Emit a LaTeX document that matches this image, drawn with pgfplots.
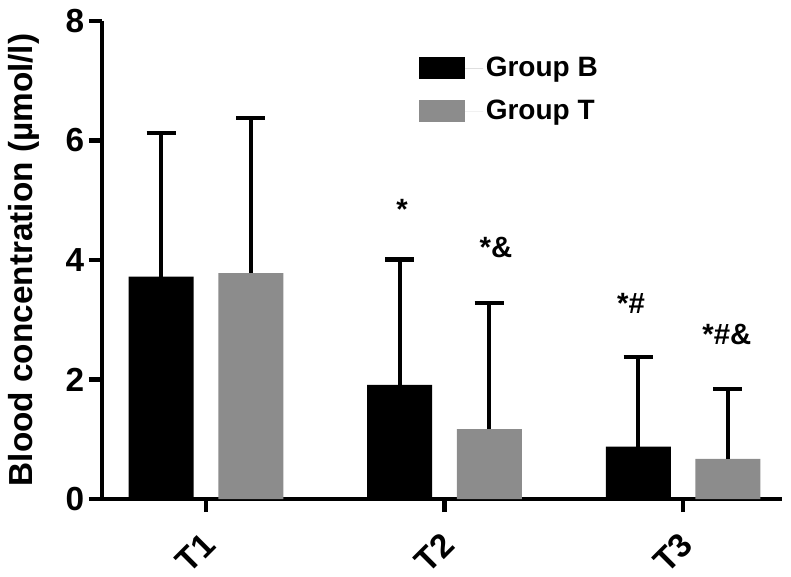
\documentclass[border=0pt]{standalone}
\usepackage{fontspec}
\setmainfont{Liberation Sans}
\usepackage{pgfplots}
\pgfplotsset{compat=1.18}
\definecolor{barB}{RGB}{0,0,0}
\definecolor{barT}{RGB}{140,140,140}
\begin{document}
\begin{tikzpicture}
\path[use as bounding box] (-76.5pt,-58.5pt) rectangle (516.75pt,374.25pt);
\begin{axis}[
  scale only axis, width=510pt, height=358.5pt,
  xmin=-0.436, xmax=2.415, ymin=0, ymax=8,
  axis lines=left,
  axis line style={-, line width=3.2pt, black},
  x axis line style={shorten <=-9.75pt},
  ytick={0,2,4,6,8},
  xtick={0,1,2}, xticklabels={T1,T2,T3},
  tick align=outside, major tick length=9.75pt,
  tick style={line width=3.2pt, black},
  /pgf/number format/assume math mode=true,
  tick label style={font=\fontsize{25}{30}\selectfont\bfseries},
  xticklabel style={rotate=45, anchor=north east, yshift=-4pt, xshift=-9pt},
  ylabel={Blood concentration (µmol/l)},
  every axis y label/.style={at={(axis description cs:-0.1015,0.5)}, rotate=90, anchor=base,
    font=\fontsize{25}{30}\selectfont\bfseries},
  ybar, bar width=0.2725,
  clip=false,
  legend style={at={(axis description cs:0.466,0.93)}, anchor=north west, draw=none, fill=none,
    font=\fontsize{21}{25}\selectfont\bfseries, inner sep=0pt, row sep=12pt},
  legend image code/.code={\fill[#1, draw=none] (0pt,-8.25pt) rectangle (34.5pt,8.25pt); \path (0pt,0pt) -- (48pt,0pt);},
  legend cell align=left,
]
\addplot[fill=barB, draw=none, bar shift=-0.1877,
  error bars/.cd, y dir=plus, y explicit,
  error bar style={line width=3.2pt, black},
  error mark options={rotate=90, mark size=10.9pt, line width=3.2pt, black}]
  coordinates {(0,3.72) +- (0,2.41) (1,1.91) +- (0,2.10) (2,0.875) +- (0,1.505)};
\addlegendentry{Group B}
\addplot[fill=barT, draw=none, bar shift=0.1877,
  error bars/.cd, y dir=plus, y explicit,
  error bar style={line width=3.2pt, black},
  error mark options={rotate=90, mark size=10.9pt, line width=3.2pt, black}]
  coordinates {(0,3.78) +- (0,2.60) (1,1.17) +- (0,2.11) (2,0.67) +- (0,1.17)};
\addlegendentry{Group T}
\node[font=\fontsize{22}{26}\selectfont\bfseries, anchor=base] at (axis cs:0.822,4.67) {*};
\node[font=\fontsize{22}{26}\selectfont\bfseries, anchor=base] at (axis cs:1.216,4.05) {*\&};
\node[font=\fontsize{22}{26}\selectfont\bfseries, anchor=base] at (axis cs:1.782,3.11) {*\#};
\node[font=\fontsize{22}{26}\selectfont\bfseries, anchor=base] at (axis cs:2.184,2.58) {*\#\&};
\end{axis}
\end{tikzpicture}
\end{document}
